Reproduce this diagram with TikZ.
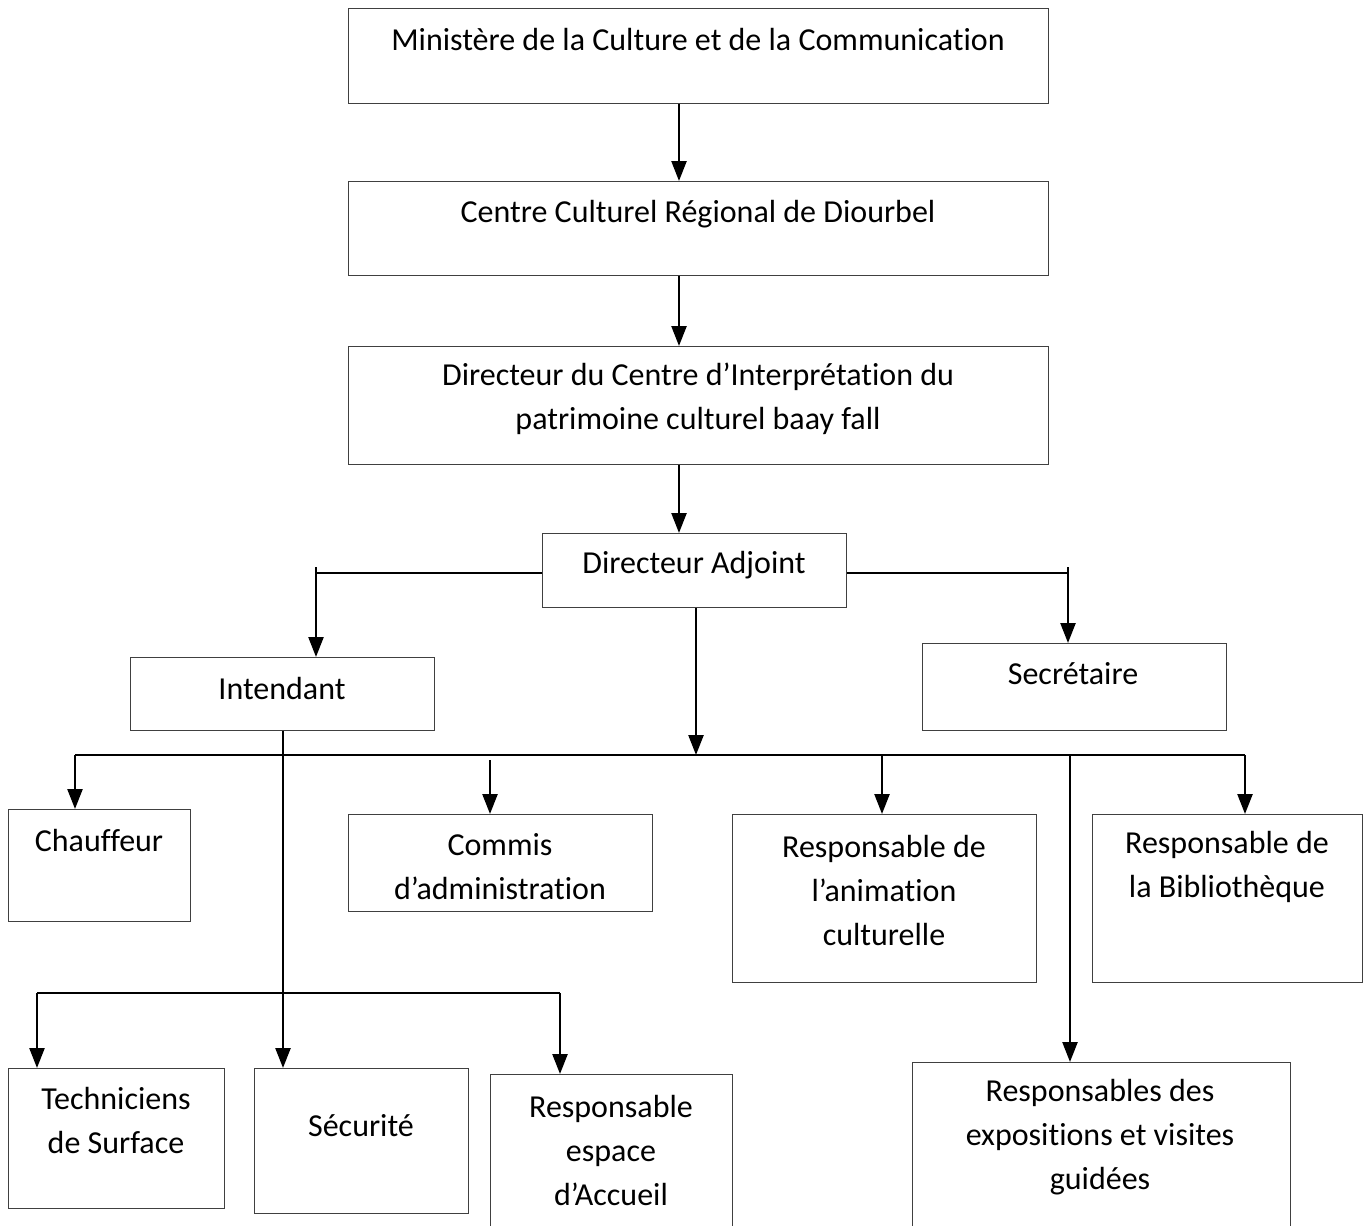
\documentclass[tikz,border=0pt]{standalone}
\usepackage{fontspec}
\setmainfont{Carlito}[Ligatures={NoCommon}]
\usetikzlibrary{arrows.meta}
\begin{document}
\begin{tikzpicture}[x=1pt,y=-1pt,
  box/.style={draw=black!75, line width=1.3pt, rectangle, inner sep=0pt, anchor=north west},
  txt/.style={align=center, inner sep=0pt, font=\fontsize{32}{44}\selectfont},
  conn/.style={line width=2.4pt, black},
  arr/.style={conn, -{Triangle[width=15pt,length=20pt]}}]
\useasboundingbox[fill=white] (0,0) rectangle (1371,1226);
% boxes
\node[box, minimum width=700pt, minimum height=95pt] (min) at (348,8) {};
\node[box, minimum width=700pt, minimum height=94pt] (ccr) at (348,181) {};
\node[box, minimum width=700pt, minimum height=118pt] (dir) at (348,346) {};
\node[box, minimum width=304pt, minimum height=74pt] (da) at (542,533) {};
\node[box, minimum width=304pt, minimum height=73pt] (int) at (130,657) {};
\node[box, minimum width=304pt, minimum height=87pt] (sec) at (922,643) {};
\node[box, minimum width=182pt, minimum height=112pt] (cha) at (8,809) {};
\node[box, minimum width=304pt, minimum height=97pt] (com) at (348,814) {};
\node[box, minimum width=304pt, minimum height=168pt] (ani) at (732,814) {};
\node[box, minimum width=270pt, minimum height=168pt] (bib) at (1092,814) {};
\node[box, minimum width=216pt, minimum height=140pt] (tec) at (8,1068) {};
\node[box, minimum width=214pt, minimum height=145pt] (secu) at (254,1068) {};
\node[box, minimum width=242pt, minimum height=165pt] (acc) at (490,1074) {};
\node[box, minimum width=378pt, minimum height=175pt] (exp) at (912,1062) {};
% texts
\node[txt] (tmin) at (698,40) {Ministère de la Culture et de la Communication};
\node[txt] (tccr) at (698,214) {Centre Culturel Régional de Diourbel};
\node[txt] (tdir) at (698,399) {Directeur du Centre d’Interprétation du\\patrimoine culturel baay fall};
\node[txt] (tda) at (694,565) {Directeur Adjoint};
\node[txt] (tint) at (282,688) {Intendant};
\node[txt] (tsec) at (1073,674) {Secrétaire};
\node[txt] (tcha) at (99,840) {Chauffeur};
\node[txt] (tcom) at (500,867) {Commis\\d’administration};
\node[txt] (tani) at (884,890) {Responsable de\\l’animation\\culturelle};
\node[txt] (tbib) at (1227,867) {Responsable de\\la Bibliothèque};
\node[txt] (ttec) at (116,1120) {Techniciens\\de Surface};
\node[txt] (tsecu) at (361,1126) {Sécurité};
\node[txt] (tacc) at (611,1150) {Responsable\\espace\\d’Accueil};
\node[txt] (texp) at (1100,1137) {Responsables des\\expositions et visites\\guidées};
% coordinates
\coordinate (xa) at (679,0);
\coordinate (xd) at (696,0);
\coordinate (xl) at (316,573);
\coordinate (xlt) at (316,567);
\coordinate (xr) at (1068,573);
\coordinate (xrt) at (1068,567);
\coordinate (bus) at (696,755);
\coordinate (busL) at (75,755);
\coordinate (busR) at (1245,755);
\coordinate (xcom) at (490,760);
\coordinate (xani) at (882,755);
\coordinate (xexp) at (1070,755);
\coordinate (xint) at (283,0);
\coordinate (bus2L) at (37,993);
\coordinate (bus2R) at (560,993);
% connectors
\draw[arr] (min.south -| xa) -- (ccr.north -| xa);
\draw[arr] (ccr.south -| xa) -- (dir.north -| xa);
\draw[arr] (dir.south -| xa) -- (da.north -| xa);
\draw[conn] (da.west |- xl) -- (xl);
\draw[arr] (xlt) -- (int.north -| xlt);
\draw[conn] (da.east |- xr) -- (xr);
\draw[arr] (xrt) -- (sec.north -| xrt);
\draw[arr] (da.south -| xd) -- (bus);
\draw[conn] (busL) -- (busR);
\draw[arr] (busL) -- (cha.north -| busL);
\draw[arr] (xcom) -- (com.north -| xcom);
\draw[arr] (xani) -- (ani.north -| xani);
\draw[arr] (busR) -- (bib.north -| busR);
\draw[arr] (xexp) -- (exp.north -| xexp);
\draw[arr] (int.south -| xint) -- (secu.north -| xint);
\draw[conn] (bus2L) -- (bus2R);
\draw[arr] (bus2L) -- (tec.north -| bus2L);
\draw[arr] (bus2R) -- (acc.north -| bus2R);
\end{tikzpicture}
\end{document}
